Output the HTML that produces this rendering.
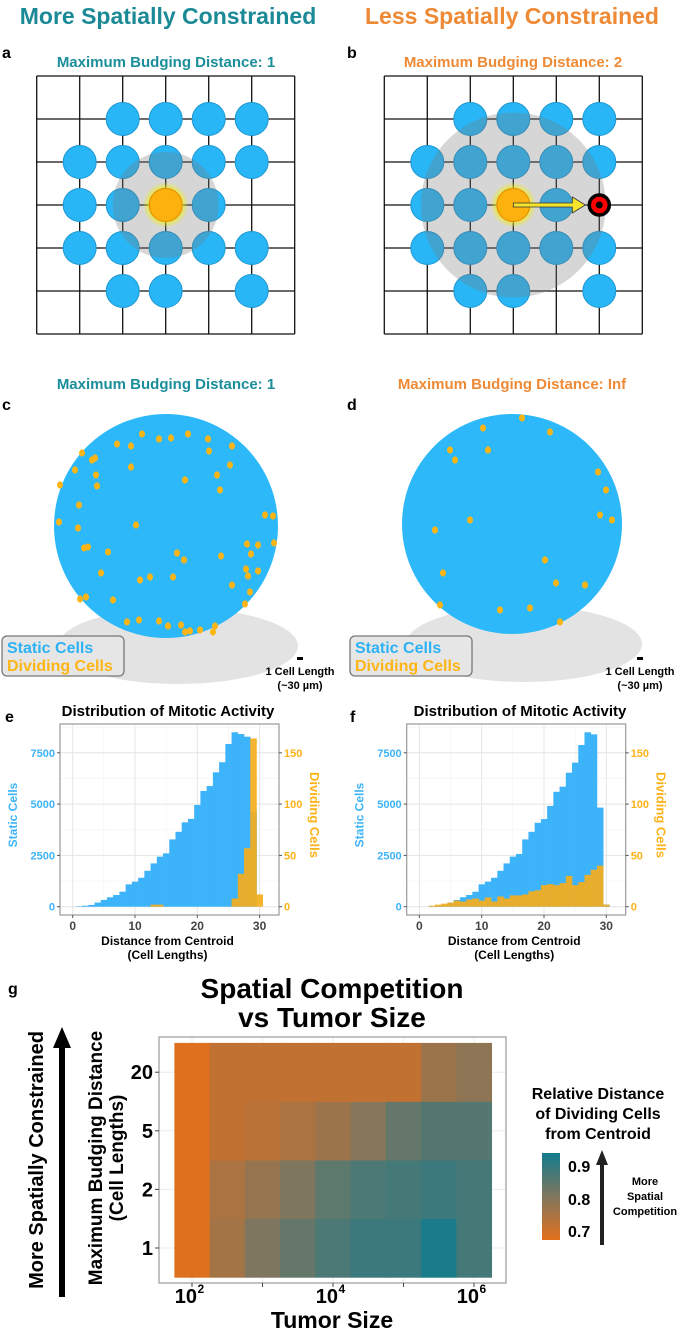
<!DOCTYPE html>
<html><head><meta charset="utf-8"><style>
body{margin:0;background:#fff}
svg{display:block;font-family:"Liberation Sans",sans-serif}
.n{font-family:"Liberation Sans Narrow","Liberation Sans",sans-serif;font-weight:bold}
</style></head><body>
<svg id="fig" width="682" height="1328" viewBox="0 0 682 1328" xmlns="http://www.w3.org/2000/svg">
<defs>
<radialGradient id="glow"><stop offset="0.6" stop-color="#f4f000" stop-opacity="0.9"/><stop offset="1" stop-color="#f4f000" stop-opacity="0"/></radialGradient>
<linearGradient id="cbar" x1="0" y1="1" x2="0" y2="0"><stop offset="0" stop-color="#e3701c"/><stop offset="0.5" stop-color="#80765e"/><stop offset="1" stop-color="#127b8e"/></linearGradient>
</defs>
<text x="168" y="24" text-anchor="middle" font-size="23" font-weight="bold" fill="#1b8a96">More Spatially Constrained</text>
<text x="512" y="24" text-anchor="middle" font-size="23" font-weight="bold" fill="#ee8a35">Less Spatially Constrained</text>
<text x="2" y="58" font-size="16" font-weight="bold">a</text>
<text x="166" y="67" text-anchor="middle" font-size="15" font-weight="bold" fill="#1b8e9b">Maximum Budging Distance: 1</text>
<text x="347" y="58" font-size="16" font-weight="bold">b</text>
<text x="513" y="67" text-anchor="middle" font-size="15" font-weight="bold" fill="#ee8a35">Maximum Budging Distance: 2</text>
<g id="gridA"></g>
<g id="gridB"></g>

<text x="2" y="410" font-size="16" font-weight="bold">c</text>
<text x="166" y="389" text-anchor="middle" font-size="15" font-weight="bold" fill="#1b8e9b">Maximum Budging Distance: 1</text>
<text x="347" y="410" font-size="16" font-weight="bold">d</text>
<text x="512" y="389" text-anchor="middle" font-size="15" font-weight="bold" fill="#ee8a35">Maximum Budging Distance: Inf</text>
<g id="tumorC"></g>
<g id="tumorD"></g>

<text x="5" y="722" font-size="16" font-weight="bold">e</text>
<text x="168" y="716" text-anchor="middle" font-size="15" font-weight="bold" class="n">Distribution of Mitotic Activity</text>
<text x="350" y="722" font-size="16" font-weight="bold">f</text>
<text x="520" y="716" text-anchor="middle" font-size="15" font-weight="bold" class="n">Distribution of Mitotic Activity</text>
<g id="histE"></g>
<g id="histF"></g>

<text x="8" y="994" font-size="16" font-weight="bold">g</text>
<text x="332" y="998" text-anchor="middle" font-size="28" class="n">Spatial Competition</text>
<text x="332" y="1027" text-anchor="middle" font-size="28" class="n">vs Tumor Size</text>
<g>
<line x1="62" y1="1297" x2="62" y2="1045" stroke="#000" stroke-width="6"/>
<polygon points="62,1027 53,1048 71,1048" fill="#000"/>
</g>
<text transform="translate(43,1160) rotate(-90)" text-anchor="middle" font-size="20" font-weight="bold">More Spatially Constrained</text>
<text transform="translate(102,1158) rotate(-90)" text-anchor="middle" font-size="19" class="n">Maximum Budging Distance</text>
<text transform="translate(123,1158) rotate(-90)" text-anchor="middle" font-size="19" class="n">(Cell Lengths)</text>
<g id="heat"></g>
<text x="332" y="1328" text-anchor="middle" font-size="23" class="n">Tumor Size</text>
<g>
<text x="598" y="1099" text-anchor="middle" font-size="16" class="n">Relative Distance</text>
<text x="598" y="1119" text-anchor="middle" font-size="16" class="n">of Dividing Cells</text>
<text x="598" y="1139" text-anchor="middle" font-size="16" class="n">from Centroid</text>
<rect x="542" y="1153" width="18" height="87" fill="url(#cbar)"/>
<text x="568" y="1172" font-size="16" class="n">0.9</text>
<text x="568" y="1205" font-size="16" class="n">0.8</text>
<text x="568" y="1237" font-size="16" class="n">0.7</text>
<line x1="602" y1="1245" x2="602" y2="1162" stroke="#222" stroke-width="4"/>
<polygon points="602,1150 596,1165 608,1165" fill="#222"/>
<text x="645" y="1185" text-anchor="middle" font-size="11" class="n">More</text>
<text x="645" y="1200" text-anchor="middle" font-size="11" class="n">Spatial</text>
<text x="645" y="1215" text-anchor="middle" font-size="11" class="n">Competition</text>
</g>
</svg>
<script>
const NS='http://www.w3.org/2000/svg';
function mk(p,t,a){const e=document.createElementNS(NS,t);for(const k in a)e.setAttribute(k,a[k]);p.appendChild(e);return e;}

// ---------- lattice panels ----------
const cellsA=[[2,1],[3,1],[4,1],[5,1],[1,2],[2,2],[3,2],[4,2],[5,2],[1,3],[2,3],[4,3],[1,4],[2,4],[3,4],[4,4],[5,4],[2,5],[3,5],[5,5]];
const cellsB=[[2,1],[3,1],[4,1],[5,1],[1,2],[2,2],[3,2],[4,2],[5,2],[1,3],[2,3],[4,3],[1,4],[2,4],[3,4],[4,4],[5,4],[2,5],[3,5],[5,5]];
function lattice(id,x0,cells,rad,target){
  const g=document.getElementById(id),s=43,y0=76;
  for(let i=0;i<=6;i++){
    const v=mk(g,'line',{x1:x0+i*s,y1:y0,x2:x0+i*s,y2:y0+6*s,stroke:'#111','stroke-width':1.3});
    
    
    const h=mk(g,'line',{x1:x0,y1:y0+i*s,x2:x0+6*s,y2:y0+i*s,stroke:'#111','stroke-width':1.3});
    
    
  }
  cells.forEach(c=>{
    const e=mk(g,'circle',{cx:x0+c[0]*s,cy:y0+c[1]*s,r:16.5,fill:'#29b6f6',stroke:'#1f97d0','stroke-width':1});
    
    
  });
  const cx=x0+3*s,cy=y0+3*s;
  const rng=mk(g,'circle',{cx:cx,cy:cy,r:rad,fill:'#777','fill-opacity':0.3});
  
  
  const gl=mk(g,'circle',{cx:cx,cy:cy,r:23,fill:'url(#glow)'});
  
  
  const o=mk(g,'circle',{cx:cx,cy:cy,r:16.5,fill:'#fdb10e',stroke:'#e08a00','stroke-width':1});
  
  
  if(target){
    const tx=x0+5*s;
    const a=mk(g,'polygon',{points:`${cx},${cy-2} ${tx-27},${cy-2} ${tx-27},${cy-8} ${tx-14},${cy} ${tx-27},${cy+8} ${tx-27},${cy+2} ${cx},${cy+2}`,fill:'#f5e52a',stroke:'#333','stroke-width':0.8});
    
    
    const t=mk(g,'circle',{cx:tx,cy:cy,r:10,fill:'#f00',stroke:'#000','stroke-width':3.5});
    
    
    mk(g,'circle',{cx:tx,cy:cy,r:3.5,fill:'#000'});
  }
}
lattice('gridA',36.7,cellsA,53,false);
lattice('gridB',384.3,cellsB,92.5,true);

// ---------- tumors ----------
const dotsC=[[142,434],[159,439],[171,438],[188,434],[208,439],[209,451],[131,446],[82,453],[92,460],[95,458],[131,467],[96,475],[97,486],[185,480],[217,475],[230,465],[220,490],[79,505],[60,485],[59,522],[78,528],[136,525],[265,515],[273,516],[84,548],[88,547],[108,552],[247,544],[258,545],[274,543],[251,554],[177,553],[184,560],[221,556],[101,573],[140,580],[150,577],[173,577],[246,569],[248,576],[258,571],[232,585],[250,592],[86,597],[113,600],[80,599],[245,604],[127,622],[139,620],[159,621],[168,626],[181,625],[185,632],[213,632],[190,631],[200,630],[215,626],[232,446],[117,444],[75,470]];
const dotsD=[[450,450],[455,460],[483,428],[488,450],[550,432],[598,472],[606,490],[612,520],[443,573],[585,585],[556,583],[435,530],[522,418],[600,515],[500,610],[530,608],[560,622],[440,605],[470,520],[545,560]];
function tumor(id,cx,cy,r,dots,sx,lx){
  const g=document.getElementById(id);
  const sh=mk(g,'ellipse',{cx:cx+12,cy:cy+120,rx:r+8,ry:38,fill:'#e3e3e3'});
  
  
  const b=mk(g,'circle',{cx:cx,cy:cy,r:r,fill:'#2db8f9'});
  
  
  dots.forEach(d=>{
    const e=mk(g,'ellipse',{cx:d[0],cy:d[1],rx:3,ry:3.6,fill:'#fdb515'});
    
    
  });
  const lg=mk(g,'g',{});
  
  
  mk(lg,'rect',{x:lx,y:636,width:122,height:40,rx:5,fill:'#e6e6e6',stroke:'#777','stroke-width':1.3});
  const t1=mk(lg,'text',{x:lx+5,y:653,'font-size':16,'font-weight':'bold',fill:'#2db2f5'});t1.textContent='Static Cells';
  const t2=mk(lg,'text',{x:lx+5,y:671,'font-size':16,'font-weight':'bold',fill:'#fdb515'});t2.textContent='Dividing Cells';
  const sb=mk(g,'g',{class:'n'});
  
  
  mk(sb,'rect',{x:sx-3,y:657,width:6,height:3,fill:'#000'});
  const s1=mk(sb,'text',{x:sx,y:675,'text-anchor':'middle','font-size':11});s1.textContent='1 Cell Length';
  const s2=mk(sb,'text',{x:sx,y:689,'text-anchor':'middle','font-size':11});s2.textContent='(~30 µm)';
}
tumor('tumorC',166,526,112,dotsC,300,2);
tumor('tumorD',512,524,110,dotsD,640,350);

// ---------- histograms ----------
const eStatic=[0,20,50,85,200,330,460,570,730,1090,1220,1410,1750,2110,2440,2600,3280,3650,4110,4280,4960,5640,5880,6550,7040,7930,8500,8415,8285,4630,0];
const eDividing=[0,0,0,0,0,0,0,0,0,0,0,0,0,2,2,0,0,0,0,0,0,0,0,0,0,0,8,32,57,164,12];
const fStatic=[0,0,20,50,85,200,330,460,570,730,1090,1220,1410,1750,2110,2440,2570,3280,3650,4090,4270,4910,5600,5850,6530,7020,7880,8500,8400,4830,100];
const fDividing=[0,0,1,2,3,4,6,5,7,8,6,9,5,10,8,11,11,12,15,16,21,22,21,23,30,21,24,31,36,40,2];
const leftTicks=[0,2500,5000,7500];
const rightTicks=[0,50,100,150];
const xTicks=[0,10,20,30];
function hist(id,dx,st,dv){
  const g=document.getElementById(id);
  const X=u=>72.7+dx+6.23*u, YL=v=>906.7-v*51.3/2500, YR=v=>906.7-v*51.3/50;
  const L=60+dx,R=279+dx,T=724,B=915;
  mk(g,'rect',{x:L,y:T,width:R-L,height:B-T,fill:'#fff'});
  for(let u=-5;u<=35;u+=5){const x=X(u);if(x>L&&x<R){const l=mk(g,'line',{x1:x,y1:T,x2:x,y2:B,stroke:u%10?'#f2f2f2':'#e4e4e4','stroke-width':u%10?0.6:1});}}
  for(let v=0;v<=8750;v+=1250){const y=YL(v);if(y>T){const l=mk(g,'line',{x1:L,y1:y,x2:R,y2:y,stroke:v%2500?'#f2f2f2':'#e4e4e4','stroke-width':v%2500?0.6:1});}}
  st.forEach((v,u)=>{if(v>0){const r=mk(g,'rect',{x:X(u-0.5),y:YL(v),width:6.23+0.3,height:YL(0)-YL(v),fill:'#3db3fa'});}});
  dv.forEach((v,u)=>{if(v>0){const r=mk(g,'rect',{x:X(u-0.5),y:YR(v),width:6.23+0.3,height:YR(0)-YR(v),fill:'#f5ae1c','fill-opacity':0.92});}});
  mk(g,'rect',{x:L,y:T,width:R-L,height:B-T,fill:'none',stroke:'#9a9a9a','stroke-width':1.2});
  leftTicks.forEach(v=>{const y=YL(v);mk(g,'line',{x1:L-3,y1:y,x2:L,y2:y,stroke:'#555'});const t=mk(g,'text',{x:L-5,y:y+4,'text-anchor':'end','font-size':11,'font-weight':'bold',fill:'#3db3fa'});t.textContent=v;});
  rightTicks.forEach(v=>{const y=YR(v);mk(g,'line',{x1:R,y1:y,x2:R+3,y2:y,stroke:'#555'});const t=mk(g,'text',{x:R+5,y:y+4,'font-size':11,'font-weight':'bold',fill:'#fdb218'});t.textContent=v;});
  xTicks.forEach(v=>{const x=X(v);mk(g,'line',{x1:x,y1:B,x2:x,y2:B+3,stroke:'#555'});const t=mk(g,'text',{x:x,y:930,'text-anchor':'middle','font-size':12,'font-weight':'bold',fill:'#444'});t.textContent=v;});
  const a=mk(g,'text',{x:(L+R)/2-2,y:945,'text-anchor':'middle','font-size':12,'font-weight':'bold'});a.textContent='Distance from Centroid';
  
  const a2=mk(g,'text',{x:(L+R)/2-2,y:959,'text-anchor':'middle','font-size':12,'font-weight':'bold'});a2.textContent='(Cell Lengths)';
  
  const yl=mk(g,'text',{transform:`translate(${17+dx},815) rotate(-90)`,'text-anchor':'middle','font-size':12,'font-weight':'bold',fill:'#3db3fa'});yl.textContent='Static Cells';
  
  const yr=mk(g,'text',{transform:`translate(${310+dx},815) rotate(90)`,'text-anchor':'middle','font-size':13,'font-weight':'bold',fill:'#fdb218'});yr.textContent='Dividing Cells';
  
}
hist('histE',0,eStatic,eDividing);
hist('histF',346.7,fStatic,fDividing);

// ---------- heatmap ----------
const tumorSizeLog=[2,2.5,3,3.5,4,4.5,5,5.5,6];
const budgeLabels=['1','2','5','20'];
const heatValues=[
 [0.68,0.76,0.81,0.84,0.87,0.89,0.89,0.93,0.88],
 [0.68,0.75,0.78,0.81,0.85,0.87,0.88,0.89,0.88],
 [0.68,0.72,0.73,0.75,0.77,0.80,0.84,0.86,0.86],
 [0.68,0.72,0.72,0.72,0.72,0.72,0.72,0.77,0.79]];
const xTickLog=[2,4,6];
function col(v){
  const t=Math.max(0,Math.min(1,(v-0.675)/(0.94-0.675)));
  const a=[227,112,28],m=[128,118,94],b=[18,123,142];
  let c;if(t<0.5){const s=t/0.5;c=a.map((x,i)=>Math.round(x+(m[i]-x)*s));}else{const s=(t-0.5)/0.5;c=m.map((x,i)=>Math.round(x+(b[i]-x)*s));}
  return `rgb(${c.join(',')})`;
}
(function(){
  const g=document.getElementById('heat');
  const X=lg=>192+(lg-2)*70.5, Y=i=>1248-i*58.6, hw=35.25/2, hh=58.6/2;
  const L=159,R=506,T=1037,B=1283;
  mk(g,'rect',{x:L,y:T,width:R-L,height:B-T,fill:'#fff'});
  [2,3,4,5,6].forEach(l=>{const ln=mk(g,'line',{x1:X(l),y1:T,x2:X(l),y2:B,stroke:'#ebebeb'});});
  budgeLabels.forEach((b,i)=>{const ln=mk(g,'line',{x1:L,y1:Y(i),x2:R,y2:Y(i),stroke:'#ebebeb'});});
  heatValues.forEach((row,i)=>row.forEach((v,j)=>{
    const r=mk(g,'rect',{x:X(tumorSizeLog[j])-hw,y:Y(i)-hh,width:hw*2+0.4,height:hh*2+0.4,fill:col(v)});
    
    
  }));
  mk(g,'rect',{x:L,y:T,width:R-L,height:B-T,fill:'none',stroke:'#999','stroke-width':1.2});
  budgeLabels.forEach((b,i)=>{mk(g,'line',{x1:L-4,y1:Y(i),x2:L,y2:Y(i),stroke:'#444'});const t=mk(g,'text',{x:L-6,y:Y(i)+7,'text-anchor':'end','font-size':20,class:'n'});t.textContent=b;});
  [2,3,4,5,6].forEach(l=>mk(g,'line',{x1:X(l),y1:B,x2:X(l),y2:B+4,stroke:'#444'}));
  xTickLog.forEach(l=>{const t=mk(g,'text',{x:X(l)+5,y:1303,'text-anchor':'end','font-size':20,class:'n'});t.textContent='10';const s=mk(g,'text',{x:X(l)+5.5,y:1293,'font-size':12,class:'n'});s.textContent=l;});
})();
</script>
</body></html>
